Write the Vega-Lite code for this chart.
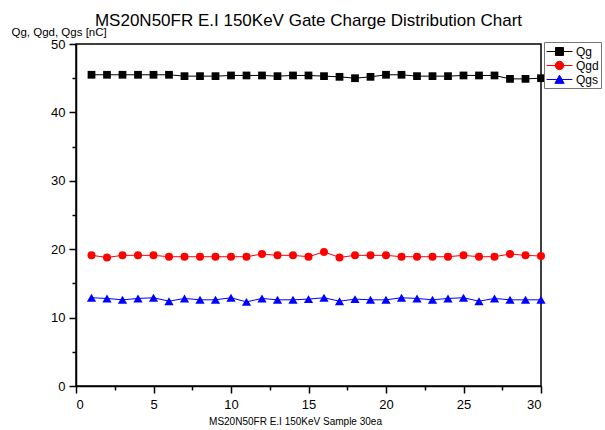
{
  "$schema": "https://vega.github.io/schema/vega-lite/v6.json",
  "width": 465,
  "height": 342,
  "autosize": "none",
  "padding": {"left": 76, "top": 44, "right": 64, "bottom": 44},
  "background": "white",
  "config": {
    "font": "Liberation Sans",
    "view": {"stroke": "#000", "strokeWidth": 1.5},
    "axis": {"grid": false, "domainColor": "#000", "tickColor": "#000", "domainWidth": 1.5, "tickWidth": 1.5, "labelColor": "#000", "titleColor": "#000", "labelFont": "Liberation Sans", "titleFont": "Liberation Sans", "titleFontWeight": "normal"}
  },
  "title": {"text": "MS20N50FR E.I 150KeV Gate Charge Distribution Chart", "fontSize": 17, "fontWeight": "normal", "color": "#000", "font": "Liberation Sans", "anchor": "middle", "offset": 0, "dy": 4},
  "data": {"values": [
    {"sample": 1, "series": "Qg", "value": 45.5}, {"sample": 2, "series": "Qg", "value": 45.5}, {"sample": 3, "series": "Qg", "value": 45.5}, {"sample": 4, "series": "Qg", "value": 45.5}, {"sample": 5, "series": "Qg", "value": 45.5}, {"sample": 6, "series": "Qg", "value": 45.5}, {"sample": 7, "series": "Qg", "value": 45.3}, {"sample": 8, "series": "Qg", "value": 45.3}, {"sample": 9, "series": "Qg", "value": 45.3}, {"sample": 10, "series": "Qg", "value": 45.4},
    {"sample": 11, "series": "Qg", "value": 45.4}, {"sample": 12, "series": "Qg", "value": 45.4}, {"sample": 13, "series": "Qg", "value": 45.3}, {"sample": 14, "series": "Qg", "value": 45.4}, {"sample": 15, "series": "Qg", "value": 45.4}, {"sample": 16, "series": "Qg", "value": 45.3}, {"sample": 17, "series": "Qg", "value": 45.2}, {"sample": 18, "series": "Qg", "value": 45.0}, {"sample": 19, "series": "Qg", "value": 45.2}, {"sample": 20, "series": "Qg", "value": 45.5},
    {"sample": 21, "series": "Qg", "value": 45.5}, {"sample": 22, "series": "Qg", "value": 45.3}, {"sample": 23, "series": "Qg", "value": 45.3}, {"sample": 24, "series": "Qg", "value": 45.3}, {"sample": 25, "series": "Qg", "value": 45.4}, {"sample": 26, "series": "Qg", "value": 45.4}, {"sample": 27, "series": "Qg", "value": 45.4}, {"sample": 28, "series": "Qg", "value": 44.9}, {"sample": 29, "series": "Qg", "value": 44.9}, {"sample": 30, "series": "Qg", "value": 45.0},
    {"sample": 1, "series": "Qgd", "value": 19.1}, {"sample": 2, "series": "Qgd", "value": 18.8}, {"sample": 3, "series": "Qgd", "value": 19.1}, {"sample": 4, "series": "Qgd", "value": 19.1}, {"sample": 5, "series": "Qgd", "value": 19.1}, {"sample": 6, "series": "Qgd", "value": 18.9}, {"sample": 7, "series": "Qgd", "value": 18.9}, {"sample": 8, "series": "Qgd", "value": 18.9}, {"sample": 9, "series": "Qgd", "value": 18.9}, {"sample": 10, "series": "Qgd", "value": 18.9},
    {"sample": 11, "series": "Qgd", "value": 18.9}, {"sample": 12, "series": "Qgd", "value": 19.3}, {"sample": 13, "series": "Qgd", "value": 19.1}, {"sample": 14, "series": "Qgd", "value": 19.1}, {"sample": 15, "series": "Qgd", "value": 18.9}, {"sample": 16, "series": "Qgd", "value": 19.6}, {"sample": 17, "series": "Qgd", "value": 18.8}, {"sample": 18, "series": "Qgd", "value": 19.1}, {"sample": 19, "series": "Qgd", "value": 19.1}, {"sample": 20, "series": "Qgd", "value": 19.1},
    {"sample": 21, "series": "Qgd", "value": 18.9}, {"sample": 22, "series": "Qgd", "value": 18.9}, {"sample": 23, "series": "Qgd", "value": 18.9}, {"sample": 24, "series": "Qgd", "value": 18.9}, {"sample": 25, "series": "Qgd", "value": 19.1}, {"sample": 26, "series": "Qgd", "value": 18.9}, {"sample": 27, "series": "Qgd", "value": 18.9}, {"sample": 28, "series": "Qgd", "value": 19.3}, {"sample": 29, "series": "Qgd", "value": 19.1}, {"sample": 30, "series": "Qgd", "value": 19.0},
    {"sample": 1, "series": "Qgs", "value": 12.9}, {"sample": 2, "series": "Qgs", "value": 12.8}, {"sample": 3, "series": "Qgs", "value": 12.6}, {"sample": 4, "series": "Qgs", "value": 12.8}, {"sample": 5, "series": "Qgs", "value": 12.9}, {"sample": 6, "series": "Qgs", "value": 12.4}, {"sample": 7, "series": "Qgs", "value": 12.8}, {"sample": 8, "series": "Qgs", "value": 12.6}, {"sample": 9, "series": "Qgs", "value": 12.6}, {"sample": 10, "series": "Qgs", "value": 12.9},
    {"sample": 11, "series": "Qgs", "value": 12.3}, {"sample": 12, "series": "Qgs", "value": 12.8}, {"sample": 13, "series": "Qgs", "value": 12.6}, {"sample": 14, "series": "Qgs", "value": 12.6}, {"sample": 15, "series": "Qgs", "value": 12.7}, {"sample": 16, "series": "Qgs", "value": 12.9}, {"sample": 17, "series": "Qgs", "value": 12.4}, {"sample": 18, "series": "Qgs", "value": 12.7}, {"sample": 19, "series": "Qgs", "value": 12.6}, {"sample": 20, "series": "Qgs", "value": 12.6},
    {"sample": 21, "series": "Qgs", "value": 12.9}, {"sample": 22, "series": "Qgs", "value": 12.8}, {"sample": 23, "series": "Qgs", "value": 12.6}, {"sample": 24, "series": "Qgs", "value": 12.8}, {"sample": 25, "series": "Qgs", "value": 12.9}, {"sample": 26, "series": "Qgs", "value": 12.4}, {"sample": 27, "series": "Qgs", "value": 12.8}, {"sample": 28, "series": "Qgs", "value": 12.6}, {"sample": 29, "series": "Qgs", "value": 12.6}, {"sample": 30, "series": "Qgs", "value": 12.6}
  ]},
  "encoding": {
    "x": {"field": "sample", "type": "quantitative", "scale": {"domain": [0, 30], "nice": false},
      "axis": {"values": [0, 2.5, 5, 7.5, 10, 12.5, 15, 17.5, 20, 22.5, 25, 27.5, 30],
        "tickSize": {"condition": {"test": "datum.value % 5 === 0", "value": 7}, "value": 4},
        "labelExpr": "datum.value % 5 === 0 ? datum.label : ''",
        "labelPadding": 5, "labelFontSize": 13, "title": "MS20N50FR E.I 150KeV Sample 30ea", "titleFontSize": 10, "titlePadding": 5, "titleX": 219}},
    "y": {"field": "value", "type": "quantitative", "scale": {"domain": [0, 50], "nice": false},
      "axis": {"values": [0, 5, 10, 15, 20, 25, 30, 35, 40, 45, 50],
        "tickSize": {"condition": {"test": "datum.value % 10 === 0", "value": 7}, "value": 4},
        "labelExpr": "datum.value % 10 === 0 ? datum.label : ''",
        "labelPadding": 4, "labelFontSize": 13, "title": "Qg, Qgd, Qgs [nC]", "titleAngle": 0, "titleAlign": "left", "titleBaseline": "middle", "titleX": -65, "titleY": -12, "titleFontSize": 11.5}},
    "color": {"field": "series", "type": "nominal", "scale": {"domain": ["Qg", "Qgd", "Qgs"], "range": ["#000000", "#ff0000", "#0000ff"]},
      "legend": {"title": null, "orient": "none", "legendX": 468, "legendY": -2, "strokeColor": "#777", "padding": 2, "symbolSize": 196, "symbolOffset": 6, "labelOffset": 9, "labelFontSize": 12, "labelColor": "#000", "rowPadding": 0, "symbolStrokeWidth": 1,
        "encode": {"symbols": {"update": {
          "shape": {"signal": "datum.value === 'Qg' ? 'M-1.85,0H1.85M-0.57,-0.57H0.57V0.57H-0.57Z' : datum.value === 'Qgd' ? 'M-1.85,0H1.85M-0.6,0A0.6,0.6 0 1,0 0.6,0A0.6,0.6 0 1,0 -0.6,0Z' : 'M-1.85,0H1.85M0,-0.62L0.66,0.55L-0.66,0.55Z'"},
          "fill": {"scale": "color", "field": "value"},
          "stroke": {"scale": "color", "field": "value"},
          "strokeWidth": {"value": 1}
        }}}}}
  },
  "layer": [
    {"mark": {"type": "line", "strokeWidth": 1}},
    {"transform": [{"filter": "datum.series === 'Qg'"}], "mark": {"type": "point", "shape": "square", "filled": true, "opacity": 1, "strokeWidth": 0, "size": 60}},
    {"transform": [{"filter": "datum.series === 'Qgd'"}], "mark": {"type": "point", "shape": "circle", "filled": true, "opacity": 1, "strokeWidth": 0, "size": 64}},
    {"transform": [{"filter": "datum.series === 'Qgs'"}], "mark": {"type": "point", "shape": "triangle-up", "filled": true, "opacity": 1, "strokeWidth": 0, "size": 85}}
  ]
}
